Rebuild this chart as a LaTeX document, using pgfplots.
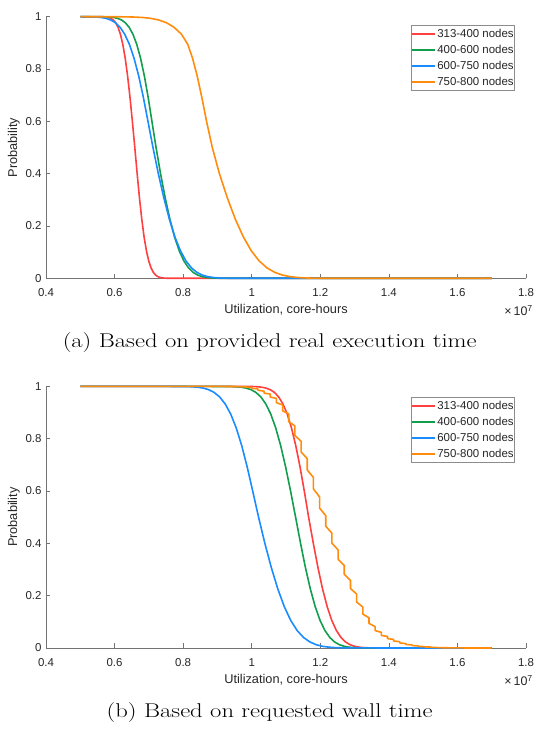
\documentclass[border=0pt]{standalone}
\usepackage{fontspec}
\usepackage{graphicx}
\usepackage{pgfplots}
\pgfplotsset{compat=1.18}
\newfontfamily\arial{Liberation Sans}

\definecolor{cred}{rgb}{1,0.25,0.25}
\definecolor{cgreen}{rgb}{0.07,0.62,0.30}
\definecolor{cblue}{rgb}{0.10,0.55,1}
\definecolor{corange}{rgb}{1,0.55,0.05}
\definecolor{axgray}{gray}{0.15}

\newcommand\tickfont{\arial\fontsize{11.5}{13}\selectfont}
\newcommand\labfont{\arial\fontsize{12.8}{14}\selectfont}

\pgfplotsset{
  cur/.style={line width=1.6bp, line join=round},
  probaxis/.style={
    scale only axis, width=480bp, height=261.6bp,
    xmin=0.4, xmax=1.8, ymin=0, ymax=1,
    enlargelimits=false, clip=false,
    axis lines=left,
    every outer x axis line/.append style={-},
    every outer y axis line/.append style={-},
    axis line style={-, draw=black!55, line width=0.6bp},
    tick align=inside, major tick length=4.5bp,
    tick style={black!55, line width=0.6bp},
    xtick={0.4,0.6,0.8,1,1.2,1.4,1.6,1.8},
    ytick={0,0.2,0.4,0.6,0.8,1},
    /pgf/number format/assume math mode=true,
    tick label style={font=\tickfont, text=axgray},
    xticklabel style={anchor=base, yshift=-18.3bp},
    yticklabel style={anchor=east, xshift=-1bp},
    xlabel={Utilization, core-hours},
    ylabel={Probability},
    label style={font=\labfont, text=axgray},
    xlabel style={at={(axis description cs:0.5,0)}, anchor=base, yshift=-35.2bp},
    ylabel style={at={(axis description cs:-0.0604,0.5)}, anchor=base, rotate=0},
    legend cell align=left,
    legend style={draw=black!45, line width=0.5bp, fill=white,
      inner xsep=0.5bp, inner ysep=0.5bp, row sep=0bp, column sep=0.5bp,
      font=\tickfont, text=axgray,
      nodes={inner xsep=0.5bp, inner ysep=2.75bp, text height=8.5bp, text depth=2bp}},
    legend image code/.code={\draw[#1, line width=1.6bp] (0bp,0bp) -- (23bp,0bp);},
  }
}

\begin{document}%
\newsavebox\capbox%
\sbox\capbox{\fontsize{20}{24}\selectfont (b) Based on requested wall time}%
\newlength\capw\setlength\capw{\wd\capbox}%
\pgfmathsetmacro\capscale{327.2225/\capw}%
\begin{tikzpicture}
\useasboundingbox (0,0) rectangle (534bp,729bp);

% (a) real execution time
\begin{axis}[probaxis, at={(46bp,450.7bp)}, anchor=south west,
  legend style={at={(0.977,0.968)}, anchor=north east}]
\addplot[cred, cur] coordinates {(0.5,1) (0.561,0.99977) (0.568,0.99942) (0.575,0.99865) (0.582,0.99702) (0.589,0.99379) (0.596,0.98778) (0.603,0.97725) (0.610,0.95994) (0.617,0.93319) (0.624,0.89435) (0.631,0.84134) (0.638,0.77337) (0.645,0.69146) (0.652,0.59871) (0.659,0.5) (0.6658,0.40129) (0.6725,0.30854) (0.6793,0.22663) (0.686,0.15866) (0.6928,0.10565) (0.6995,0.06681) (0.7063,0.04006) (0.713,0.02275) (0.7198,0.01222) (0.7265,0.00621) (0.7333,0.00298) (0.740,0.00135) (0.7468,0.00058) (0.7535,0.00023) (1.7,0)};
\addplot[cgreen, cur] coordinates {(0.5,1) (0.5635,0.99977) (0.5748,0.99942) (0.586,0.99865) (0.5973,0.99702) (0.6085,0.99379) (0.6198,0.98778) (0.631,0.97725) (0.6423,0.95994) (0.6535,0.93319) (0.6647,0.89435) (0.6758,0.84134) (0.6869,0.77337) (0.6980,0.69146) (0.7091,0.59871) (0.721,0.5) (0.7339,0.40129) (0.7475,0.30854) (0.7612,0.22663) (0.7748,0.15866) (0.7884,0.10565) (0.802,0.06681) (0.8155,0.04006) (0.829,0.02275) (0.8425,0.01222) (0.856,0.00621) (0.8695,0.00298) (0.883,0.00135) (0.8965,0.00058) (0.910,0.00023) (1.7,0)};
\addplot[cblue, cur] coordinates {(0.5,1) (0.5195,0.99977) (0.5333,0.99942) (0.547,0.99865) (0.5608,0.99702) (0.5745,0.99379) (0.5883,0.98778) (0.602,0.97725) (0.6158,0.95994) (0.6295,0.93319) (0.6432,0.89435) (0.6568,0.84134) (0.6704,0.77337) (0.6840,0.69146) (0.6976,0.59871) (0.712,0.5) (0.7274,0.40129) (0.7435,0.30854) (0.7597,0.22663) (0.7758,0.15866) (0.7919,0.10565) (0.808,0.06681) (0.824,0.04006) (0.840,0.02275) (0.856,0.01222) (0.872,0.00621) (0.888,0.00298) (0.904,0.00135) (0.920,0.00058) (0.936,0.00023) (1.7,0)};
\addplot[corange, cur] coordinates {(0.5,1) (0.605,0.99977) (0.6315,0.99942) (0.657,0.99865) (0.6815,0.99702) (0.705,0.99379) (0.7275,0.98778) (0.751,0.97725) (0.773,0.95994) (0.795,0.93319) (0.8135,0.89435) (0.8274,0.84134) (0.841,0.77337) (0.8545,0.69146) (0.8685,0.59871) (0.885,0.5) (0.9055,0.40129) (0.9285,0.30854) (0.952,0.22663) (0.9754,0.15866) (0.9985,0.10565) (1.0214,0.06681) (1.0443,0.04006) (1.067,0.02275) (1.0898,0.01222) (1.1125,0.00621) (1.1353,0.00298) (1.158,0.00135) (1.1808,0.00058) (1.2035,0.00023) (1.7,0)};
\legend{313-400 nodes, 400-600 nodes, 600-750 nodes, 750-800 nodes}
\end{axis}

% (b) requested wall time
\begin{axis}[probaxis, at={(46bp,81bp)}, anchor=south west,
  legend style={at={(0.977,0.9592)}, anchor=north east}]
\addplot[cred, cur] coordinates {(0.5,1) (0.991,0.99977) (1.0035,0.99942) (1.016,0.99865) (1.0285,0.99702) (1.041,0.99379) (1.0535,0.98778) (1.066,0.97725) (1.0785,0.95994) (1.091,0.93319) (1.1035,0.89435) (1.116,0.84134) (1.1285,0.77337) (1.141,0.69146) (1.1535,0.59871) (1.166,0.5) (1.1795,0.40129) (1.193,0.30854) (1.2065,0.22663) (1.220,0.15866) (1.2335,0.10565) (1.247,0.06681) (1.2605,0.04006) (1.274,0.02275) (1.2875,0.01222) (1.301,0.00621) (1.3145,0.00298) (1.328,0.00135) (1.3415,0.00058) (1.355,0.00023) (1.7,0)};
\addplot[cgreen, cur] coordinates {(0.5,1) (0.925,0.99977) (0.9395,0.99942) (0.954,0.99865) (0.9685,0.99702) (0.983,0.99379) (0.9975,0.98778) (1.012,0.97725) (1.0265,0.95994) (1.041,0.93319) (1.0555,0.89435) (1.070,0.84134) (1.0845,0.77337) (1.099,0.69146) (1.1135,0.59871) (1.128,0.5) (1.1423,0.40129) (1.1565,0.30854) (1.1708,0.22663) (1.185,0.15866) (1.1993,0.10565) (1.2135,0.06681) (1.2278,0.04006) (1.242,0.02275) (1.2563,0.01222) (1.2705,0.00621) (1.2848,0.00298) (1.299,0.00135) (1.3133,0.00058) (1.3275,0.00023) (1.7,0)};
\addplot[cblue, cur] coordinates {(0.5,1) (0.7925,0.99977) (0.8088,0.99942) (0.825,0.99865) (0.8413,0.99702) (0.8575,0.99379) (0.8738,0.98778) (0.890,0.97725) (0.9063,0.95994) (0.9225,0.93319) (0.9387,0.89435) (0.9548,0.84134) (0.9709,0.77337) (0.9869,0.69146) (1.0031,0.59871) (1.020,0.5) (1.0381,0.40129) (1.0569,0.30854) (1.0759,0.22663) (1.0948,0.15866) (1.1137,0.10565) (1.1325,0.06681) (1.1513,0.04006) (1.170,0.02275) (1.1888,0.01222) (1.2075,0.00621) (1.2263,0.00298) (1.245,0.00135) (1.2638,0.00058) (1.2825,0.00023) (1.7,0)};
\addplot[corange, cur] coordinates {(0.5,1) (0.90,1) (0.95,0.9995) (0.98,0.998)
 (1.000,0.9959) (1.000,0.9921) (1.018,0.9907) (1.018,0.9853)
 (1.036,0.9818) (1.036,0.9742) (1.054,0.9707) (1.054,0.9593)
 (1.072,0.9541) (1.072,0.9379) (1.090,0.9293) (1.090,0.9067)
 (1.108,0.8951) (1.108,0.8649) (1.126,0.8489) (1.126,0.8121)
 (1.144,0.7905) (1.144,0.7495) (1.162,0.7236) (1.162,0.6804)
 (1.180,0.6519) (1.180,0.6081) (1.198,0.5773) (1.198,0.5347)
 (1.216,0.5056) (1.216,0.4656) (1.234,0.4385) (1.234,0.4007)
 (1.252,0.3748) (1.252,0.3392) (1.270,0.3147) (1.270,0.2813)
 (1.288,0.2587) (1.288,0.2273) (1.306,0.2064) (1.306,0.1756)
 (1.324,0.1565) (1.324,0.1295) (1.342,0.1158) (1.342,0.0942)
 (1.360,0.0816) (1.360,0.0664) (1.378,0.0599) (1.378,0.0481)
 (1.396,0.0441) (1.396,0.0359) (1.414,0.0330) (1.414,0.0270)
 (1.432,0.0240) (1.432,0.0192) (1.450,0.0166) (1.450,0.0134)
 (1.468,0.0116) (1.468,0.0092) (1.486,0.0080) (1.486,0.0062)
 (1.504,0.0053) (1.504,0.0041) (1.522,0.0036) (1.522,0.0028)
 (1.540,0.0022) (1.540,0.0016) (1.56,0.0010) (1.60,0.0003) (1.65,0) (1.7,0)};
\legend{313-400 nodes, 400-600 nodes, 600-750 nodes, 750-800 nodes}
\end{axis}

% exponent labels and captions
\node[anchor=base east, inner sep=0pt, text=axgray] at (533bp,413bp) {\arial\fontsize{12.5}{14}\selectfont ×\,10\textsuperscript{7}};
\node[anchor=base east, inner sep=0pt, text=axgray] at (533bp,43bp) {\arial\fontsize{12.5}{14}\selectfont ×\,10\textsuperscript{7}};
\node[anchor=base, inner sep=0pt] at (269.7bp,381.4bp) {\scalebox{\capscale}[1]{\fontsize{20}{24}\selectfont (a) Based on provided real execution time}};
\node[anchor=base, inner sep=0pt] at (269.7bp,11.7bp) {\scalebox{\capscale}[1]{\usebox\capbox}};
\end{tikzpicture}%
\end{document}
